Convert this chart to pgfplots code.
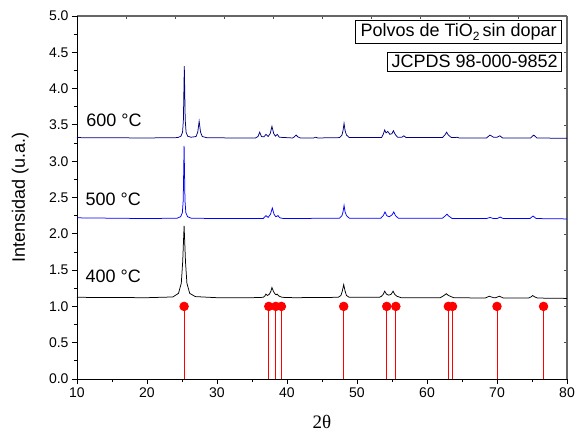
\documentclass[border=0pt]{standalone}
\usepackage{pgfplots}
\pgfplotsset{compat=1.18}
\usepackage{fontspec}
\setmainfont{Liberation Sans}
\newfontfamily\seriffont{Liberation Serif}
\definecolor{navyc}{RGB}{0,0,128}
\definecolor{bluec}{RGB}{0,0,255}
\begin{document}
\begin{tikzpicture}
\begin{axis}[
  name=top,
  scale only axis, width=490pt, height=363pt,
  xmin=10, xmax=80, ymin=0, ymax=5,
  axis x line*=top, axis y line*=right,
  axis line style={black!60, line width=1.4pt},
  tick align=inside,
  xtick={17,24,31,38,45,52,59,66,73},
  ytick={0.5,1,1.5,2,2.5,3,3.5,4,4.5},
  xticklabels={}, yticklabels={},
  major tick length=3pt,
  every tick/.style={black!70, line width=0.6pt},
]
\end{axis}
\begin{axis}[
  name=main,
  scale only axis, width=490pt, height=363pt,
  xmin=10, xmax=80, ymin=0, ymax=5,
  axis x line*=bottom, axis y line*=left,
  axis line style={black, line width=0.9pt},
  tick align=outside,
  xtick={10,20,30,40,50,60,70,80}, minor x tick num=1,
  ytick={0,0.5,1,1.5,2,2.5,3,3.5,4,4.5,5}, minor y tick num=1,
  major tick length=5pt, minor tick length=3pt,
  every tick/.style={black, line width=0.8pt},
  /pgf/number format/assume math mode=true,
  tick label style={font=\fontsize{14}{14}\selectfont},
  yticklabel style={/pgf/number format/.cd, fixed, fixed zerofill, precision=1},
  xlabel={{\seriffont 2θ}},
  xlabel style={font=\fontsize{19}{19}\selectfont, at={(axis description cs:0.5,-0.118)}, anchor=center},
  ylabel={Intensidad (u.a.)},
  ylabel style={font=\fontsize{18}{18}\selectfont, at={(axis description cs:-0.116,0.5)}, anchor=center, rotate=0},
  clip=false,
]
% JCPDS sticks
\addplot[red, ycomb, line width=0.8pt, mark=*, mark size=4.3pt, mark options={fill=red, draw=red}]
coordinates {(25.3,1) (37.4,1) (38.4,1) (39.2,1) (48.1,1) (54.25,1) (55.55,1) (63.05,1) (63.65,1) (70.0,1) (76.65,1)};
% 400 C
\addplot[black, line width=0.75pt] coordinates {
(10,1.125) (20,1.12) (23.7,1.13) (24.5,1.18) (24.9,1.32) (25.1,1.615) (25.3,2.11) (25.5,1.615) (25.7,1.32) (26.1,1.18) (26.9,1.135) (30,1.12) (35,1.12) (36.6,1.125) (36.85,1.145) (37.0,1.17) (37.2,1.15) (37.5,1.17) (37.7,1.21) (37.85,1.26) (38.05,1.21) (38.3,1.17) (38.45,1.16) (38.6,1.17) (38.8,1.145) (39.3,1.125) (41,1.12) (47.3,1.125) (47.7,1.15) (47.9,1.21) (48.1,1.30) (48.3,1.21) (48.5,1.15) (48.9,1.125) (53.2,1.125) (53.5,1.14) (53.75,1.165) (53.95,1.21) (54.2,1.17) (54.5,1.155) (54.7,1.16) (54.9,1.17) (55.15,1.21) (55.4,1.165) (55.7,1.14) (56.3,1.12) (61.9,1.12) (62.25,1.14) (62.5,1.155) (62.75,1.175) (63.0,1.155) (63.3,1.14) (63.8,1.12) (68.3,1.115) (68.9,1.14) (69.5,1.12) (69.8,1.12) (70.35,1.14) (70.9,1.115) (74.5,1.115) (74.85,1.13) (75.1,1.15) (75.4,1.13) (75.8,1.115) (80,1.11)};
% 500 C
\addplot[bluec, line width=0.75pt] coordinates {
(10,2.22) (20,2.21) (24.3,2.215) (24.8,2.235) (25.05,2.29) (25.175,2.46) (25.3,3.21) (25.425,2.46) (25.55,2.29) (25.8,2.235) (26.3,2.215) (30,2.21) (36.6,2.21) (37.0,2.25) (37.3,2.225) (37.65,2.27) (37.9,2.355) (38.15,2.27) (38.4,2.235) (38.7,2.25) (39.0,2.22) (39.5,2.21) (47.5,2.215) (47.85,2.25) (48.0,2.3) (48.15,2.39) (48.3,2.3) (48.5,2.25) (48.9,2.215) (53.4,2.215) (53.75,2.25) (54.0,2.30) (54.25,2.25) (54.6,2.235) (55.0,2.26) (55.25,2.30) (55.5,2.25) (55.9,2.215) (62.2,2.215) (62.6,2.245) (62.85,2.27) (63.1,2.245) (63.6,2.21) (68.5,2.21) (69.0,2.225) (69.5,2.21) (70.0,2.21) (70.45,2.23) (70.9,2.21) (74.7,2.21) (75.15,2.245) (75.6,2.21) (80,2.205)};
% 600 C
\addplot[navyc, line width=0.75pt] coordinates {
(10,3.325) (20,3.32) (24.4,3.325) (24.85,3.345) (25.08,3.40) (25.2,3.57) (25.33,4.31) (25.46,3.57) (25.58,3.40) (25.8,3.345) (26.3,3.33) (27.0,3.34) (27.25,3.40) (27.45,3.55) (27.65,3.40) (27.9,3.34) (28.6,3.322) (35.5,3.32) (35.85,3.34) (36.1,3.40) (36.35,3.34) (36.7,3.335) (37.0,3.37) (37.3,3.34) (37.6,3.38) (37.85,3.48) (38.1,3.38) (38.35,3.345) (38.6,3.37) (38.9,3.33) (40.8,3.32) (41.05,3.335) (41.3,3.36) (41.55,3.335) (41.9,3.32) (43.8,3.32) (44.1,3.33) (44.4,3.32) (47.5,3.325) (47.85,3.36) (48.0,3.42) (48.15,3.52) (48.3,3.42) (48.5,3.36) (48.9,3.325) (53.5,3.325) (53.75,3.37) (53.95,3.43) (54.15,3.39) (54.4,3.41) (54.7,3.37) (55.0,3.38) (55.2,3.42) (55.45,3.37) (55.8,3.33) (56.4,3.33) (56.7,3.35) (57.0,3.325) (62.2,3.325) (62.55,3.36) (62.8,3.40) (63.05,3.36) (63.5,3.325) (64.0,3.325) (64.3,3.33) (64.6,3.32) (68.5,3.32) (69.0,3.36) (69.5,3.33) (70.0,3.33) (70.4,3.35) (70.8,3.32) (74.8,3.32) (75.25,3.36) (75.7,3.32) (80,3.315)};
\node[anchor=west, font=\fontsize{18}{18}\selectfont, inner sep=0pt] at (axis cs:11.3,3.57) {600 °C};
\node[anchor=west, font=\fontsize{18}{18}\selectfont, inner sep=0pt] at (axis cs:11.2,2.47) {500 °C};
\node[anchor=west, font=\fontsize{18}{18}\selectfont, inner sep=0pt] at (axis cs:11.2,1.42) {400 °C};
\node[draw, line width=0.7pt, anchor=north east, inner xsep=5pt, inner ysep=3pt, font=\fontsize{18}{18}\selectfont] at ([xshift=-5pt,yshift=-4pt]rel axis cs:1,1) {Polvos de TiO\raisebox{-0.45ex}{\fontsize{12}{12}\selectfont 2}\,sin dopar};
\node[draw, line width=0.7pt, anchor=north east, inner xsep=4pt, inner ysep=3pt, font=\fontsize{18}{18}\selectfont] at ([xshift=-5pt,yshift=-36pt]rel axis cs:1,1) {JCPDS 98-000-9852};
\end{axis}
\pgfresetboundingbox
\path[use as bounding box] ([xshift=-77pt,yshift=-55pt]main.south west) rectangle ([xshift=8pt,yshift=16pt]main.north east);
\end{tikzpicture}
\end{document}
